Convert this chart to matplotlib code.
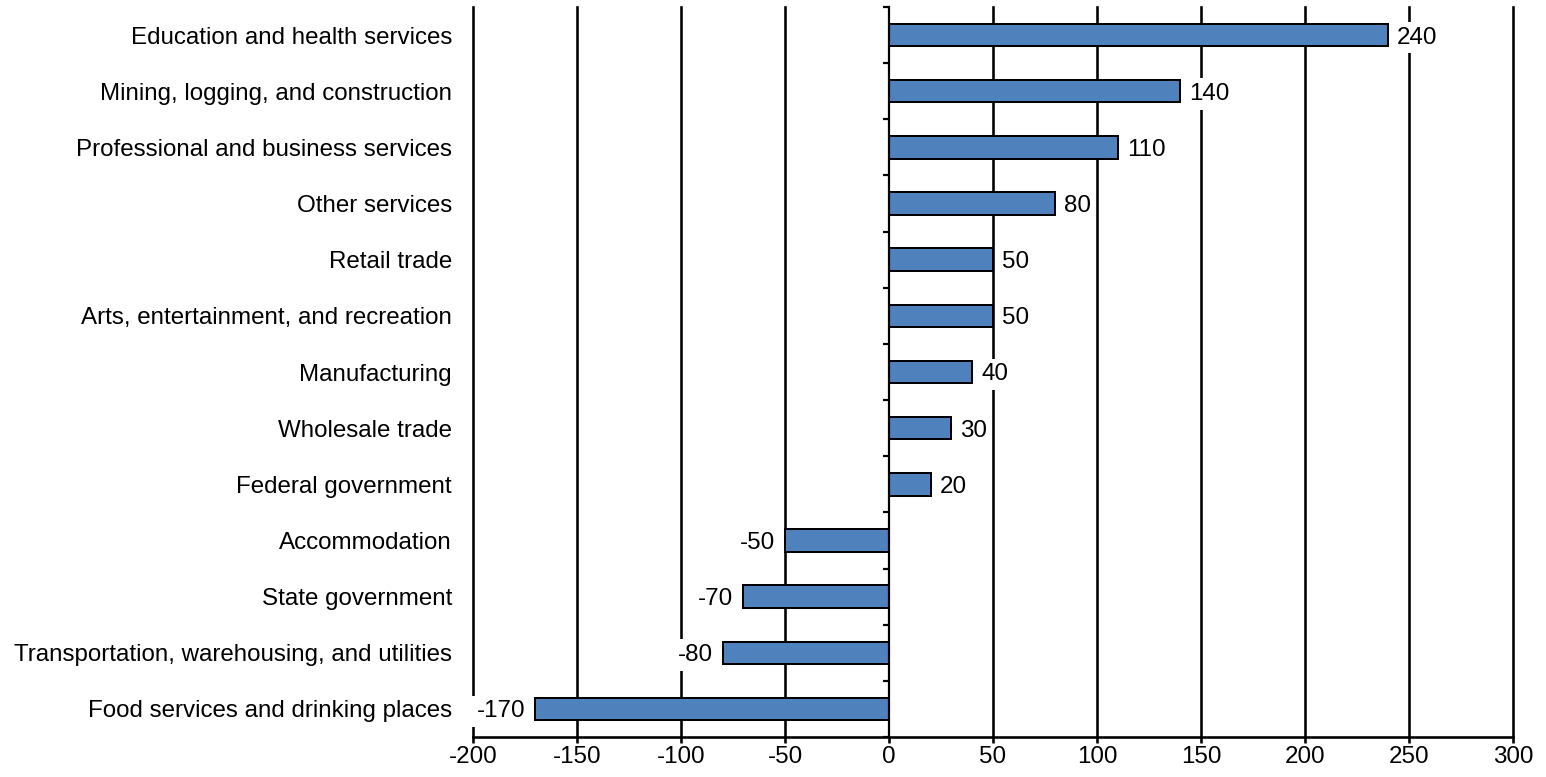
import matplotlib
matplotlib.use("Agg")
import matplotlib.pyplot as plt
import numpy as np

categories = [
    "Education and health services",
    "Mining, logging, and construction",
    "Professional and business services",
    "Other services",
    "Retail trade",
    "Arts, entertainment, and recreation",
    "Manufacturing",
    "Wholesale trade",
    "Federal government",
    "Accommodation",
    "State government",
    "Transportation, warehousing, and utilities",
    "Food services and drinking places",
]
values = [240, 140, 110, 80, 50, 50, 40, 30, 20, -50, -70, -80, -170]
xticks = [-200, -150, -100, -50, 0, 50, 100, 150, 200, 250, 300]

plt.rcParams['font.family'] = ['Liberation Sans', 'DejaVu Sans']
FS = 17.4
PX = 72 / 100  # points per pixel

fig = plt.figure(figsize=(15.46, 7.77), dpi=100)
ax = fig.add_axes([473/1546, 1 - 737/777, (1513-473)/1546, (737-7)/777])

n = len(categories)
y = np.arange(n)
ax.barh(y, values, height=0.4, color='#4F81BD', edgecolor='black',
        linewidth=2 * PX, zorder=3)

ax.set_xlim(-200, 300)
ax.set_ylim(n - 0.5, -0.5)

# gridlines
for xt in xticks:
    if xt != 0:
        ax.axvline(xt, color='black', linewidth=2.6 * PX, zorder=1, clip_on=False)

# spines
for s in ['top', 'left']:
    ax.spines[s].set_visible(False)
ax.spines['bottom'].set_linewidth(2.6 * PX)
ax.spines['bottom'].set_zorder(5)
ax.spines['right'].set_position(('data', 0))
ax.spines['right'].set_linewidth(2.2 * PX)
ax.spines['right'].set_zorder(5)

ax.set_xticks(xticks)
ax.set_xticklabels([str(v) for v in xticks], fontsize=FS)
ax.tick_params(axis='x', direction='out', length=6 * PX, width=2.6 * PX, pad=3 * PX)

ax.set_yticks(y)
ax.set_yticklabels(categories, fontsize=FS)
ax.tick_params(axis='y', which='major', left=True, right=False, length=0, pad=21 * PX)
ax.set_yticks(np.arange(n + 1) - 0.5, minor=True)
ax.tick_params(axis='y', which='minor', left=False, right=True, direction='in',
               length=6 * PX, width=2.2 * PX)

# value labels
for yi, v in zip(y, values):
    off = 9 if v >= 0 else -10
    ax.annotate(str(v), (v, yi), xytext=(off, 0), textcoords='offset pixels',
                ha='left' if v >= 0 else 'right', va='center_baseline',
                fontsize=FS, zorder=4,
                bbox=dict(boxstyle='square,pad=0.2', fc='white', ec='none'))

fig.savefig("out.png", dpi=100)
